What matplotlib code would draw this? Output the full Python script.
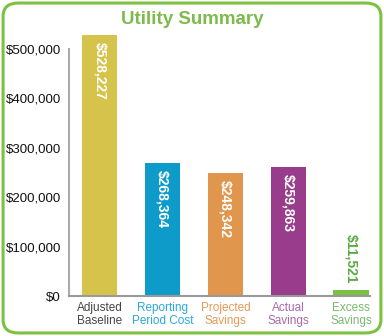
import matplotlib
matplotlib.use("Agg")
import matplotlib.pyplot as plt
from matplotlib.patches import FancyBboxPatch
from matplotlib.ticker import FuncFormatter

plt.rcParams['font.family'] = ['Liberation Sans', 'DejaVu Sans']

categories = ["Adjusted\nBaseline", "Reporting\nPeriod Cost", "Projected\nSavings", "Actual\nSavings", "Excess\nSavings"]
values = [528227, 268364, 248342, 259863, 11521]
bar_colors = ["#d6c34b", "#0f9bc9", "#e0964c", "#993c8b", "#7cc142"]
label_colors = ["#444444", "#2aa8d8", "#e39a57", "#a76aa9", "#78b86f"]
yticks = [0, 100000, 200000, 300000, 400000, 500000]

fig = plt.figure(figsize=(3.84, 3.36), dpi=100)
ax = fig.add_axes([0.18, 0.119, 0.783, 0.795])

x = list(range(len(values)))
ax.bar(x, values, width=0.56, color=bar_colors)

for i, v in enumerate(values):
    txt = "${:,}".format(v)
    if v > 50000:
        ax.text(i, v - 14000, txt, rotation=270, ha='center', va='top',
                color='white', fontsize=10, fontweight='bold')
    else:
        ax.text(i, v + 14000, txt, rotation=270, ha='center', va='bottom',
                color='#5aaa45', fontsize=10, fontweight='bold')

ax.set_xlim(-0.49, 4.3)
ax.set_ylim(0, 540000)
ax.set_yticks(yticks)
ax.yaxis.set_major_formatter(FuncFormatter(lambda v, p: "${:,.0f}".format(v)))
ax.set_xticks(x)
ax.set_xticklabels(categories, fontsize=8.5, linespacing=1.2)
for lbl, c in zip(ax.get_xticklabels(), label_colors):
    lbl.set_color(c)
ax.tick_params(axis='y', length=0, pad=6, labelsize=9.5, colors='#111111')
ax.tick_params(axis='x', length=0, pad=4)

for s in ['top', 'right']:
    ax.spines[s].set_visible(False)
ax.spines['left'].set_bounds(0, 500000)
ax.spines['left'].set_color('#aaaaaa')
ax.spines['bottom'].set_color('#999999')
ax.spines['left'].set_linewidth(1.5)
ax.spines['bottom'].set_linewidth(1.5)

fig.text(0.5, 0.943, "Utility Summary", ha='center', va='center',
         color='#7dbb4a', fontsize=13.5, fontweight='bold')

frame = FancyBboxPatch((0.008, 0.009), 0.984, 0.982,
                       boxstyle="round,pad=0,rounding_size=0.04",
                       transform=fig.transFigure, fill=False,
                       edgecolor='#7cc142', linewidth=2.2, zorder=0)
fig.patches.append(frame)

fig.savefig("out.png", dpi=100)
